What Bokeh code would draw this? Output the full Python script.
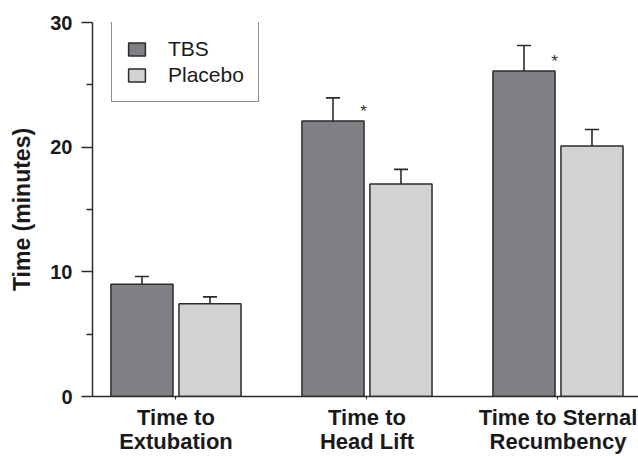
import numpy as np
from bokeh.plotting import figure
from bokeh.models import Range1d, FixedTicker, Legend, LegendItem
from bokeh.embed import file_html
from bokeh.resources import INLINE
from bokeh.core.properties import value

# ---- data ----
categories = ["Time to\nExtubation", "Time to\nHead Lift", "Time to Sternal\nRecumbency"]
tbs_mean = [9.0, 22.1, 26.1]
tbs_sem = [0.63, 1.85, 2.05]
placebo_mean = [7.43, 17.05, 20.1]
placebo_sem = [0.56, 1.17, 1.32]
significant = [False, True, True]
y_ticks = [0, 10, 20, 30]
y_minor = [5, 15, 25]

FONT = "Liberation Sans"
TBS_COLOR = "#7f8084"
PLA_COLOR = "#d1d2d4"
EDGE = "#2b2b2b"
TXT = "#1a1a1a"

idx = np.arange(len(categories))
off = 0.178
bw = 0.325
cap = 0.037

p = figure(width=638, height=456, output_backend="svg", toolbar_location=None,
           x_range=Range1d(-0.437, 2.4215), y_range=Range1d(0, 30),
           min_border_left=92, min_border_right=0, min_border_top=22, min_border_bottom=57)
p.outline_line_color = None
p.xgrid.visible = False
p.ygrid.visible = False
p.background_fill_color = "white"

tbs_x = idx - off
pla_x = idx + off
tbs_top = np.array(tbs_mean) + np.array(tbs_sem)
pla_top = np.array(placebo_mean) + np.array(placebo_sem)

# error bars (upper only)
for xs, m, t in ((tbs_x, tbs_mean, tbs_top), (pla_x, placebo_mean, pla_top)):
    p.segment(x0=xs, y0=m, x1=xs, y1=t, line_color=EDGE, line_width=1.6)
    p.segment(x0=xs - cap, y0=t, x1=xs + cap, y1=t, line_color=EDGE, line_width=1.6)

r_tbs = p.vbar(x=tbs_x, top=tbs_mean, bottom=0, width=bw, fill_color=TBS_COLOR,
               line_color=EDGE, line_width=1.5)
r_pla = p.vbar(x=pla_x, top=placebo_mean, bottom=0, width=bw, fill_color=PLA_COLOR,
               line_color=EDGE, line_width=1.5)

# significance asterisks
sig_x = [i - 0.018 for i, s in zip(idx, significant) if s]
sig_y = [m + 0.75 for m, s in zip(tbs_mean, significant) if s]
p.text(x=sig_x, y=sig_y, text=["*"] * len(sig_x), text_font=value(FONT),
       text_font_size="17px", text_align="center", text_baseline="middle", text_color="#333333")

# axes
yax = p.yaxis[0]
yax.ticker = FixedTicker(ticks=y_ticks, minor_ticks=y_minor)
yax.axis_label = "Time (minutes)"
yax.axis_label_text_font = FONT
yax.axis_label_text_font_style = "bold"
yax.axis_label_text_font_size = "23px"
yax.axis_label_text_color = TXT
yax.axis_label_standoff = 12
yax.major_label_text_font = FONT
yax.major_label_text_font_style = "bold"
yax.major_label_text_font_size = "20px"
yax.major_label_text_color = TXT
yax.major_label_standoff = 9
yax.major_tick_in = 0
yax.major_tick_out = 11
yax.minor_tick_in = 0
yax.minor_tick_out = 6
yax.axis_line_color = EDGE
yax.axis_line_width = 1.5
yax.major_tick_line_color = EDGE
yax.major_tick_line_width = 1.3
yax.minor_tick_line_color = EDGE
yax.minor_tick_line_width = 1.3

xax = p.xaxis[0]
xax.ticker = FixedTicker(ticks=list(idx))
xax.major_label_overrides = {int(i): c for i, c in zip(idx, categories)}
xax.major_label_text_font = FONT
xax.major_label_text_font_style = "bold"
xax.major_label_text_font_size = "22px"
xax.major_label_text_color = TXT
xax.major_label_text_line_height = 0.97
xax.major_label_standoff = 5
xax.major_tick_in = 0
xax.major_tick_out = 3
xax.minor_tick_line_color = None
xax.axis_line_color = EDGE
xax.axis_line_width = 1.5
xax.major_tick_line_color = EDGE

legend = Legend(items=[LegendItem(label="TBS", renderers=[r_tbs]),
                       LegendItem(label="Placebo", renderers=[r_pla])],
                location=(19, 294))
legend.title = " "
legend.title_text_font_size = "2px"
legend.title_standoff = 3
legend.label_text_font = FONT
legend.label_text_font_size = "21px"
legend.label_text_color = TXT
legend.glyph_width = 21
legend.glyph_height = 16
legend.label_height = 22
legend.label_standoff = 21
legend.spacing = 2
legend.padding = 14
legend.margin = 0
legend.border_line_color = TXT
legend.border_line_width = 1.3
legend.background_fill_alpha = 1.0
p.add_layout(legend)

open("out.html", "w").write(file_html(p, INLINE))
